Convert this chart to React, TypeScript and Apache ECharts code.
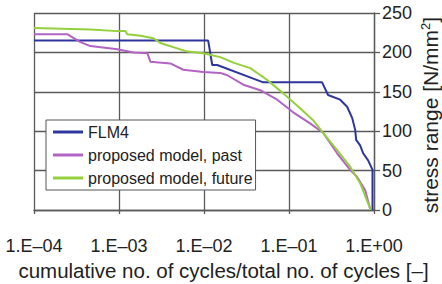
import React, { useEffect, useRef } from "react";
import * as echarts from "echarts";

const xTickLabels = ["1.E–04", "1.E–03", "1.E–02", "1.E–01", "1.E+00"];
const yTicks = [0, 50, 100, 150, 200, 250];

const flm4X = [1e-4, 0.0112, 0.0125, 0.0143, 0.0498, 0.245, 0.288, 0.4, 0.483, 0.553, 0.6, 0.617, 0.687, 0.745, 0.853, 0.96, 0.96];
const flm4Y = [215, 215, 184, 184, 162, 162, 146, 140, 131, 117, 102, 89, 82, 72, 63, 51, 0];

const pastX = [1e-4, 2.48e-4, 3.52e-4, 4.61e-4, 9.57e-4, 1.48e-3, 2.16e-3, 2.34e-3, 4.02e-3, 5.71e-3, 9.82e-3, 0.0155, 0.0188, 0.029, 0.0459, 0.0726, 0.112, 0.177, 0.252, 0.368, 0.524, 0.634, 0.787, 0.899, 0.91];
const pastY = [223, 223, 213, 208, 204, 200, 199, 188, 186, 178, 175, 174, 171, 159, 152, 140, 124, 110, 98, 72, 51, 42, 25, 2, 0];

const futureX = [1e-4, 4.6e-4, 9.6e-4, 1.19e-3, 1.25e-3, 1.79e-3, 2.54e-3, 3.06e-3, 6.37e-3, 9.82e-3, 0.0155, 0.0221, 0.035, 0.0555, 0.0855, 0.135, 0.192, 0.252, 0.368, 0.524, 0.687, 0.899, 0.91];
const futureY = [231, 229, 227, 227, 223, 221, 218, 212, 201, 199, 194, 187, 180, 165, 148, 129, 114, 98, 76, 55, 34, 2, 0];

const seriesNames = ["FLM4", "proposed model, past", "proposed model, future"];
const seriesColors = ["#2e369e", "#b263c4", "#94d03c"];
const yAxisTitle = "{a|stress range [N/mm}{s|2}{a|]}";

const zip = (xs: number[], ys: number[]) => xs.map((x, i) => [x, ys[i]]);

export default function App() {
  const ref = useRef<HTMLDivElement>(null);
  useEffect(() => {
    if (!ref.current) return;
    const chart = echarts.init(ref.current, undefined, { renderer: "svg" });
    const font = "'Liberation Sans', Arial, sans-serif";
    const gridColor = "#5a5a5a";
    const datasets = [zip(flm4X, flm4Y), zip(pastX, pastY), zip(futureX, futureY)];
    chart.setOption({
      animation: false,
      backgroundColor: "#ffffff",
      textStyle: { fontFamily: font },
      grid: { left: 34, right: 68, top: 13, bottom: 74, containLabel: false, outerBoundsMode: "none" },
      graphic: [
        {
          type: "text",
          x: 430,
          y: 115,
          rotation: Math.PI / 2,
          style: {
            text: yAxisTitle,
            align: "center",
            verticalAlign: "middle",
            fill: "#222",
            font: `21px ${font}`,
            rich: {
              a: { fontSize: 21, fill: "#222", fontFamily: font, lineHeight: 22 },
              s: { fontSize: 13, fill: "#222", fontFamily: font, verticalAlign: "top", lineHeight: 22 },
            },
          },
        },
      ],
      legend: {
        orient: "vertical",
        left: 46,
        top: 120,
        backgroundColor: "#ffffff",
        borderColor: "#555",
        borderWidth: 1,
        borderRadius: 0,
        padding: [4, 3, 4, 7],
        itemGap: 7,
        itemWidth: 30,
        itemHeight: 3,
        icon: "rect",
        data: seriesNames,
        textStyle: { fontSize: 16, color: "#222", fontFamily: font },
      },
      xAxis: {
        type: "log",
        logBase: 10,
        min: 1e-4,
        max: 1,
        name: "cumulative no. of cycles/total no. of cycles [–]",
        nameLocation: "middle",
        nameGap: 50,
        nameTextStyle: { fontSize: 20.5, color: "#222", fontFamily: font, padding: [0, 0, 0, 39] },
        axisLine: { show: true, lineStyle: { color: gridColor, width: 1.3 } },
        axisTick: { show: true, length: 4, lineStyle: { color: gridColor, width: 1.3 } },
        minorTick: { show: false },
        splitLine: { show: true, lineStyle: { color: gridColor, width: 1.3 } },
        axisLabel: {
          margin: 27,
          fontSize: 18,
          color: "#222",
          fontFamily: font,
          formatter: (v: number) => {
            const i = Math.round(Math.log10(v)) + 4;
            return xTickLabels[i] ?? "";
          },
        },
      },
      yAxis: {
        type: "value",
        position: "right",
        min: yTicks[0],
        max: yTicks[yTicks.length - 1],
        interval: 50,
        axisLine: { show: true, lineStyle: { color: gridColor, width: 1.3 } },
        axisTick: { show: true, inside: false, length: 6, lineStyle: { color: gridColor, width: 1.3 } },
        splitLine: { show: true, lineStyle: { color: gridColor, width: 1.3 } },
        axisLabel: { margin: 8, fontSize: 18, color: "#222", fontFamily: font },
      },
      series: seriesNames.map((name, i) => ({
        name,
        type: "line",
        data: datasets[i],
        showSymbol: false,
        symbol: "none",
        color: seriesColors[i],
        lineStyle: { width: 2, color: seriesColors[i] },
        z: 3 + i,
      })),
    });
    return () => chart.dispose();
  }, []);
  return <div ref={ref} style={{ width: 442, height: 284, position: "absolute", left: 0, top: 0 }} />;
}
